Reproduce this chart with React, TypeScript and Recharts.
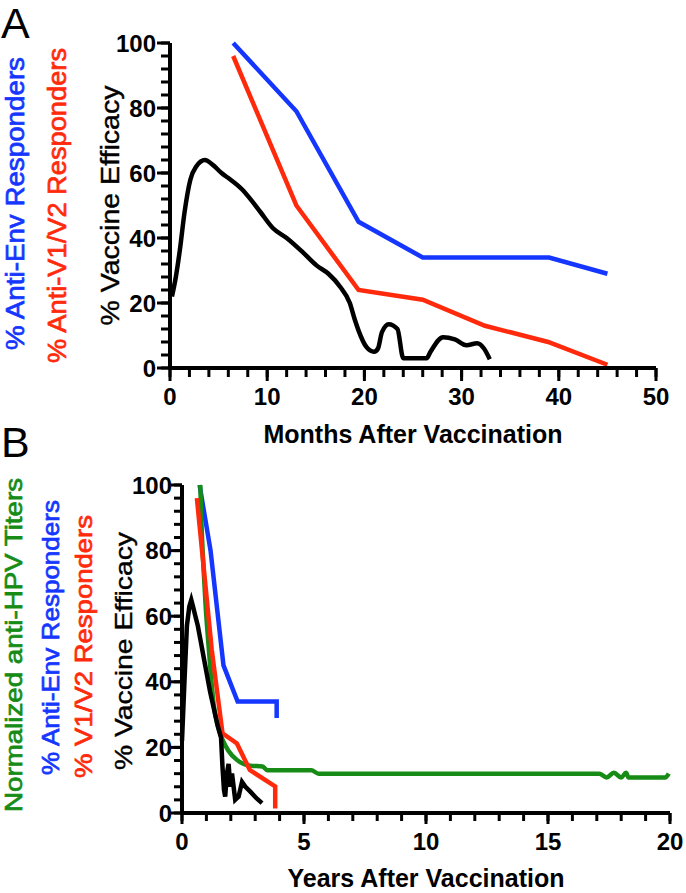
import { LineChart, Line, XAxis, YAxis, Label } from 'recharts';

// Panel A — months after vaccination
const blueAMonths = [6.5, 13, 19.4, 26, 39, 45];
const blueAPct = [100, 79, 45, 34, 34, 29];
const redAMonths = [6.5, 13, 19.4, 26, 32.4, 38.9, 45];
const redAPct = [96, 50, 24, 21, 13, 8, 1];
const blackAMonths = [
  0.2, 0.6, 1.0, 1.5, 2.1, 2.7, 3.6, 4.4, 5.3, 6.2, 7.4, 8.4, 9.3, 10.6, 12.0, 13.7, 15.1, 16.3, 17.5,
  18.5, 19.0, 19.4, 20.2, 21.0, 21.4, 21.8, 22.5, 23.4, 24.0, 26.4, 26.8, 28.1, 29.3, 30.5, 31.6, 32.3, 32.9,
];
const blackAPct = [
  22, 28, 36, 48, 58, 62, 64, 62.5, 60, 58, 55, 51.5, 48, 43, 40, 35.5, 31.5, 29, 25,
  20, 15, 11.5, 6.5, 5, 6, 11, 13.5, 12, 3, 3, 5, 9.5, 8.8, 7, 7.6, 6, 2.7,
];
const monthTicks = [0, 2, 4, 6, 8, 10, 12, 14, 16, 18, 20, 22, 24, 26, 28, 30, 32, 34, 36, 38, 40, 42, 44, 46, 48, 50];

// Panel B — years after vaccination
const greenBYears = [0.75, 0.8, 0.88, 0.97, 1.1, 1.3, 1.45, 1.65, 1.9, 2.25, 2.8, 3.3, 3.5, 5.3, 5.6, 17.1, 17.4, 17.7, 18.0, 18.2, 18.3, 19.8, 19.95];
const greenBPct = [100, 88, 75, 63, 50, 33, 27, 22.5, 19, 16.2, 14.4, 14.2, 13, 13, 12, 12, 10.8, 12.3, 10.8, 12.3, 10.8, 10.8, 12];
const blueBYears = [0.72, 1.17, 1.7, 2.28, 3.88, 3.88];
const blueBPct = [100, 80, 45, 34, 34, 29];
const redBYears = [0.61, 1.22, 1.66, 2.25, 2.78, 3.82, 3.82];
const redBPct = [96, 49.7, 24.3, 21.2, 13.1, 8.1, 1.4];
const blackBYears = [
  0, 0.1, 0.2, 0.3, 0.38, 0.45, 0.55, 0.65, 0.75, 0.85, 1.0, 1.15, 1.3, 1.45, 1.6, 1.66, 1.72, 1.77,
  1.84, 1.91, 1.98, 2.05, 2.18, 2.32, 2.46, 2.6, 2.8, 3.05, 3.28,
];
const blackBPct = [
  22, 40, 57, 63, 65, 63, 60, 57, 53, 49, 43, 37, 32, 27, 23, 14, 7, 5,
  12, 15, 8, 12, 4, 5, 9.5, 8, 6.5, 4.5, 3,
];
const yearTicks = [0, 1, 2, 3, 4, 5, 6, 7, 8, 9, 10, 11, 12, 13, 14, 15, 16, 17, 18, 19, 20];

const pctTicks = [0, 4, 8, 12, 16, 20, 24, 28, 32, 36, 40, 44, 48, 52, 56, 60, 64, 68, 72, 76, 80, 84, 88, 92, 96, 100];

const BLUE = '#1436ff';
const RED = '#ff2a0c';
const GREEN = '#168c16';
const FONT = '"Liberation Sans", Arial, Helvetica, sans-serif';

const zip = (xs: number[], ys: number[]) => xs.map((x, i) => ({ x, y: ys[i] }));

// Recharts draws the minor tick lines (tickSize = minor); (x, y) arrive at their end.
// Major ticks get a longer mark plus a bold label.
function makeXTick(majorStep: number, minor: number, major: number) {
  return (props: any) => {
    const { x, y, payload } = props;
    if (payload.value % majorStep !== 0) return <g />;
    return (
      <g>
        <rect x={x - 1.5} y={y - minor} width={3} height={major} fill="#000" />
        <text x={x} y={y - minor + 37} textAnchor="middle" fontFamily={FONT} fontWeight="bold" fontSize={24} fill="#000">
          {payload.value}
        </text>
      </g>
    );
  };
}

function makeYTick(minor: number, major: number, gap: number) {
  return (props: any) => {
    const { x, y, payload } = props;
    if (payload.value % 20 !== 0) return <g />;
    return (
      <g>
        <rect x={x + minor - major} y={y - 1.5} width={major} height={3} fill="#000" />
        <text x={x + minor - gap} y={y} dy="0.36em" textAnchor="end" fontFamily={FONT} fontWeight="bold" fontSize={24} fill="#000">
          {payload.value}
        </text>
      </g>
    );
  };
}

function sideLabel(text: string, dx: number, dy: number, color: string, size: number, len: number, thick: number) {
  return (props: any) => {
    const vb = props.viewBox;
    const cx = vb.x + vb.width + dx;
    const cy = vb.y + vb.height / 2 + dy;
    return (
      <text
        x={cx}
        y={cy}
        transform={`rotate(-90 ${cx} ${cy})`}
        textAnchor="middle"
        dominantBaseline="central"
        fontFamily={FONT}
        fontSize={size}
        fill={color}
        stroke={color}
        strokeWidth={thick}
        textLength={len}
        lengthAdjust="spacingAndGlyphs"
      >
        {text}
      </text>
    );
  };
}

function bottomLabel(text: string, dy: number) {
  return (props: any) => {
    const vb = props.viewBox;
    return (
      <text x={vb.x + vb.width / 2} y={vb.y + dy} textAnchor="middle" fontFamily={FONT} fontWeight="bold" fontSize={25} fill="#000">
        {text}
      </text>
    );
  };
}

const axisStyle = { stroke: '#000', strokeWidth: 4 };
const tickStyle = { stroke: '#000', strokeWidth: 3 };

function PanelA() {
  return (
    <LineChart width={686} height={450} margin={{ top: 43, right: 30, bottom: 81, left: 169 }}>
      <XAxis
        type="number"
        dataKey="x"
        domain={[0, 50]}
        ticks={monthTicks}
        interval={0}
        height={1}
        tickSize={9}
        tickMargin={0}
        tickLine={tickStyle}
        axisLine={axisStyle}
        tick={makeXTick(10, 9, 13)}
      >
        <Label content={bottomLabel('Months After Vaccination', 75)} />
      </XAxis>
      <YAxis
        type="number"
        dataKey="y"
        domain={[0, 100]}
        ticks={pctTicks}
        interval={0}
        width={1}
        tickSize={9}
        tickMargin={0}
        tickLine={tickStyle}
        axisLine={axisStyle}
        tick={makeYTick(9, 13, 14)}
      >
        <Label content={sideLabel('% Anti-Env Responders', -155, -2, BLUE, 26, 293, 0.7)} />
        <Label content={sideLabel('% Anti-V1/V2 Responders', -113, 0, RED, 26, 315, 0.7)} />
        <Label content={sideLabel('% Vaccine Efficacy', -60, 0, '#000', 25, 240, 0.4)} />
      </YAxis>
      <Line data={zip(blueAMonths, blueAPct)} dataKey="y" type="linear" stroke={BLUE} strokeWidth={4.5} dot={false} isAnimationActive={false} />
      <Line data={zip(redAMonths, redAPct)} dataKey="y" type="linear" stroke={RED} strokeWidth={4.5} dot={false} isAnimationActive={false} />
      <Line data={zip(blackAMonths, blackAPct)} dataKey="y" type="monotone" stroke="#000" strokeWidth={4.5} dot={false} isAnimationActive={false} />
    </LineChart>
  );
}

function PanelB() {
  return (
    <LineChart width={686} height={443} margin={{ top: 35, right: 16, bottom: 79, left: 181 }}>
      <XAxis
        type="number"
        dataKey="x"
        domain={[0, 20]}
        ticks={yearTicks}
        interval={0}
        height={1}
        tickSize={8}
        tickMargin={0}
        tickLine={tickStyle}
        axisLine={axisStyle}
        tick={makeXTick(5, 8, 11)}
      >
        <Label content={bottomLabel('Years After Vaccination', 74)} />
      </XAxis>
      <YAxis
        type="number"
        dataKey="y"
        domain={[0, 100]}
        ticks={pctTicks}
        interval={0}
        width={1}
        tickSize={8}
        tickMargin={0}
        tickLine={tickStyle}
        axisLine={axisStyle}
        tick={makeYTick(8, 11, 10)}
      >
        <Label content={sideLabel('Normalized anti-HPV Titers', -169, -4, GREEN, 24, 334, 0.7)} />
        <Label content={sideLabel('% Anti-Env Responders', -132, -11.5, BLUE, 24, 275, 0.7)} />
        <Label content={sideLabel('% V1/V2 Responders', -99, -2.5, RED, 24, 263, 0.7)} />
        <Label content={sideLabel('% Vaccine Efficacy', -59, 2, '#000', 24, 238, 0.4)} />
      </YAxis>
      <Line data={zip(blueBYears, blueBPct)} dataKey="y" type="linear" stroke={BLUE} strokeWidth={4.5} dot={false} isAnimationActive={false} />
      <Line data={zip(greenBYears, greenBPct)} dataKey="y" type="monotone" stroke={GREEN} strokeWidth={4.5} dot={false} isAnimationActive={false} />
      <Line data={zip(redBYears, redBPct)} dataKey="y" type="linear" stroke={RED} strokeWidth={4.5} dot={false} isAnimationActive={false} />
      <Line data={zip(blackBYears, blackBPct)} dataKey="y" type="linear" stroke="#000" strokeWidth={4.5} dot={false} isAnimationActive={false} />
    </LineChart>
  );
}

export default function App() {
  return (
    <div style={{ position: 'absolute', left: 0, top: 0, width: 686, height: 893, background: '#fff', fontFamily: FONT }}>
      <div style={{ position: 'absolute', left: 0, top: 0 }}>
        <PanelA />
      </div>
      <div style={{ position: 'absolute', left: 0, top: 450 }}>
        <PanelB />
      </div>
      <svg width={686} height={893} style={{ position: 'absolute', left: 0, top: 0, pointerEvents: 'none' }}>
        <text x={1} y={38} fontFamily={FONT} fontSize={43} fill="#000">A</text>
        <text x={1} y={457} fontFamily={FONT} fontSize={43} fill="#000">B</text>
      </svg>
    </div>
  );
}
